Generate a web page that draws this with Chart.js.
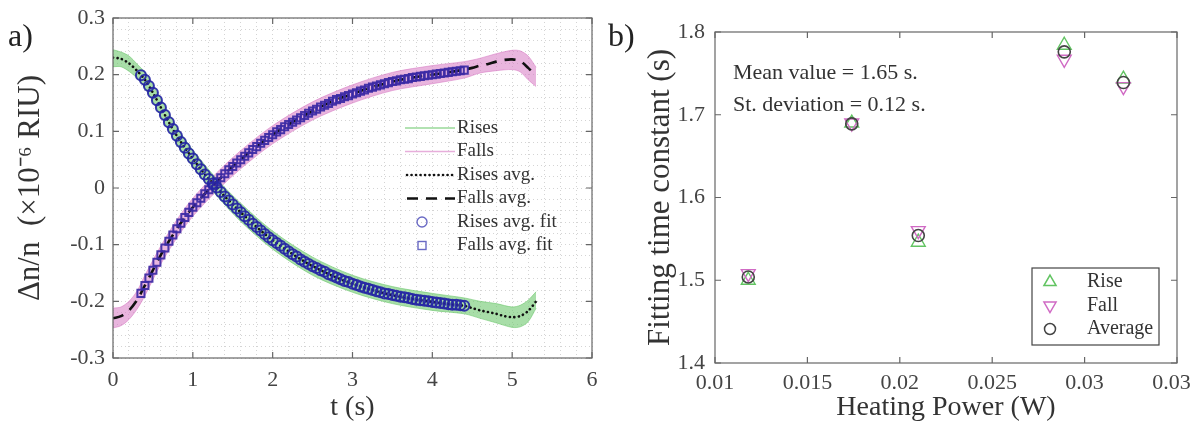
<!DOCTYPE html>
<html>
<head>
<meta charset="utf-8">
<script src="https://cdn.jsdelivr.net/npm/chart.js@4.4.1/dist/chart.umd.min.js"></script>
<style>
  body { margin: 0; background: #fff; width: 1191px; height: 430px; overflow: hidden; position: relative; font-family: "Liberation Serif", serif; }
  canvas { position: absolute; top: 0; }
  #graficoA { left: 0; }
  #graficoB { left: 600px; }
  .rotulo { position: absolute; font-size: 32px; line-height: 36px; color: #222; }
  .nota { position: absolute; font-size: 22px; line-height: 26px; color: #333; white-space: nowrap; }
</style>
</head>
<body>
<canvas id="graficoA" width="600" height="430"></canvas>
<canvas id="graficoB" width="591" height="430"></canvas>
<div class="rotulo" style="left:8px; top:17px;">a)</div>
<div class="rotulo" style="left:608px; top:17px;">b)</div>
<div class="nota" style="left:733px; top:59px;">Mean value = 1.65 s.</div>
<div class="nota" style="left:733px; top:91px;">St. deviation = 0.12 s.</div>
<script>
// ---- painel a) curvas médias ----
const tMedia = [0, 0.1, 0.2, 0.3, 0.4, 0.5, 0.6, 0.7, 0.8, 0.9, 1.0, 1.1, 1.2, 1.3, 1.4, 1.5, 1.6, 1.7, 1.8, 1.9, 2.0,
  2.2, 2.4, 2.6, 2.8, 3.0, 3.2, 3.4, 3.6, 3.8, 4.0, 4.2, 4.4, 4.5, 4.6, 4.7, 4.8, 4.9, 5.0, 5.1, 5.2, 5.3];
const subidasMedia = [0.230, 0.228, 0.220, 0.207, 0.191, 0.168, 0.142, 0.116, 0.092, 0.071, 0.052, 0.033, 0.016, 0.001, -0.015, -0.029, -0.043, -0.056, -0.069, -0.081, -0.092,
  -0.112, -0.130, -0.145, -0.158, -0.169, -0.178, -0.186, -0.192, -0.197, -0.201, -0.205, -0.208, -0.212, -0.216, -0.219, -0.222, -0.226, -0.228, -0.226, -0.217, -0.200];
const descidasMedia = [-0.230, -0.226, -0.216, -0.198, -0.172, -0.145, -0.118, -0.094, -0.072, -0.052, -0.034, -0.018, -0.003, 0.011, 0.025, 0.038, 0.050, 0.062, 0.073, 0.084, 0.094,
  0.112, 0.128, 0.143, 0.156, 0.166, 0.176, 0.184, 0.191, 0.196, 0.200, 0.204, 0.209, 0.212, 0.216, 0.219, 0.223, 0.226, 0.227, 0.224, 0.212, 0.198];

// faixas das curvas individuais (limite de cima e de baixo)
const tFaixa = [0, 0.1, 0.2, 0.3, 0.4, 0.6, 0.8, 1.0, 1.3, 1.6, 2.0, 2.5, 3.0, 3.5, 4.0, 4.4, 4.6, 4.8, 5.0, 5.1, 5.2, 5.3];
const subidasCima = [0.244, 0.240, 0.233, 0.219, 0.204, 0.157, 0.107, 0.067, 0.016, -0.027, -0.076, -0.122, -0.154, -0.174, -0.186, -0.194, -0.200, -0.204, -0.210, -0.207, -0.198, -0.183];
const subidasBaixo = [0.214, 0.214, 0.206, 0.194, 0.177, 0.127, 0.077, 0.037, -0.014, -0.059, -0.108, -0.154, -0.184, -0.204, -0.216, -0.222, -0.230, -0.238, -0.246, -0.245, -0.236, -0.212];
const descidasCima = [-0.212, -0.210, -0.200, -0.182, -0.154, -0.102, -0.056, -0.018, 0.027, 0.066, 0.110, 0.152, 0.182, 0.204, 0.216, 0.223, 0.229, 0.237, 0.243, 0.242, 0.233, 0.213];
const descidasBaixo = [-0.247, -0.243, -0.232, -0.214, -0.190, -0.134, -0.088, -0.050, -0.005, 0.034, 0.078, 0.120, 0.150, 0.172, 0.184, 0.194, 0.203, 0.207, 0.209, 0.205, 0.191, 0.179];

// pontos do ajuste
const tAjuste = [0.35, 0.40, 0.45, 0.50, 0.55, 0.60, 0.65, 0.70, 0.75, 0.80, 0.85, 0.90, 0.95, 1.00, 1.05, 1.10, 1.15, 1.20, 1.25, 1.30,
  1.35, 1.40, 1.45, 1.50, 1.55, 1.60, 1.65, 1.70, 1.75, 1.80, 1.85, 1.90, 1.95, 2.00, 2.05, 2.10, 2.15, 2.20, 2.25, 2.30,
  2.35, 2.40, 2.45, 2.50, 2.55, 2.60, 2.65, 2.70, 2.75, 2.80, 2.85, 2.90, 2.95, 3.00, 3.05, 3.10, 3.15, 3.20, 3.25, 3.30,
  3.35, 3.40, 3.45, 3.50, 3.55, 3.60, 3.65, 3.70, 3.75, 3.80, 3.85, 3.90, 3.95, 4.00, 4.05, 4.10, 4.15, 4.20, 4.25, 4.30, 4.35, 4.40];
const ajusteSubidas = [0.199, 0.191, 0.180, 0.168, 0.155, 0.142, 0.129, 0.116, 0.104, 0.092,
  0.081, 0.071, 0.061, 0.052, 0.042, 0.033, 0.024, 0.016, 0.008, 0.001,
  -0.007, -0.015, -0.022, -0.029, -0.036, -0.043, -0.050, -0.056, -0.063, -0.069,
  -0.075, -0.081, -0.087, -0.092, -0.097, -0.102, -0.107, -0.112, -0.117, -0.121,
  -0.126, -0.130, -0.134, -0.138, -0.141, -0.145, -0.148, -0.152, -0.155, -0.158,
  -0.161, -0.164, -0.166, -0.169, -0.171, -0.174, -0.176, -0.178, -0.180, -0.182,
  -0.184, -0.186, -0.187, -0.189, -0.190, -0.192, -0.193, -0.194, -0.196, -0.197,
  -0.198, -0.199, -0.200, -0.201, -0.202, -0.203, -0.204, -0.205, -0.206, -0.206, -0.207, -0.208];
const ajusteDescidas = [-0.186, -0.172, -0.159, -0.145, -0.131, -0.118, -0.106, -0.094, -0.083, -0.072,
  -0.062, -0.052, -0.043, -0.034, -0.026, -0.018, -0.010, -0.003, 0.004, 0.011,
  0.018, 0.025, 0.032, 0.038, 0.044, 0.050, 0.056, 0.062, 0.068, 0.073,
  0.079, 0.084, 0.089, 0.094, 0.099, 0.103, 0.108, 0.112, 0.116, 0.120,
  0.124, 0.128, 0.132, 0.136, 0.139, 0.143, 0.146, 0.149, 0.153, 0.156,
  0.158, 0.161, 0.163, 0.166, 0.168, 0.171, 0.173, 0.176, 0.178, 0.180,
  0.182, 0.184, 0.186, 0.188, 0.189, 0.191, 0.192, 0.193, 0.195, 0.196,
  0.197, 0.198, 0.199, 0.200, 0.201, 0.202, 0.203, 0.204, 0.205, 0.206, 0.207, 0.208];

// ---- painel b) constantes de tempo ----
const potencia = [0.0118, 0.0174, 0.0210, 0.0289, 0.0321];
const tauSubida = [1.500, 1.690, 1.546, 1.784, 1.743];
const tauDescida = [1.508, 1.690, 1.560, 1.767, 1.734];
const tauMedia = [1.504, 1.689, 1.554, 1.776, 1.739];

const FONTE = '"Liberation Serif", serif';
const VERDE = "rgba(110,200,110,0.6)";
const ROSA = "rgba(215,120,195,0.55)";

const pares = (xs, ys) => xs.map((x, i) => ({ x: x, y: ys[i] }));

// moldura fechada + tiquinhos pra dentro (estilo matlab)
const moldura = {
  id: "moldura",
  afterDatasetsDraw(chart) {
    const { ctx, chartArea: a, scales } = chart;
    ctx.save();
    ctx.strokeStyle = "#666";
    ctx.lineWidth = 1.2;
    ctx.setLineDash([]);
    ctx.strokeRect(a.left, a.top, a.right - a.left, a.bottom - a.top);
    const tam = 6;
    ctx.beginPath();
    scales.x.ticks.forEach((t) => {
      if (!t.label) return;
      const px = scales.x.getPixelForValue(t.value);
      ctx.moveTo(px, a.bottom); ctx.lineTo(px, a.bottom - tam);
      ctx.moveTo(px, a.top); ctx.lineTo(px, a.top + tam);
    });
    scales.y.ticks.forEach((t) => {
      if (!t.label) return;
      const py = scales.y.getPixelForValue(t.value);
      ctx.moveTo(a.left, py); ctx.lineTo(a.left + tam, py);
      ctx.moveTo(a.right, py); ctx.lineTo(a.right - tam, py);
    });
    ctx.stroke();
    ctx.restore();
  },
};

// legenda do painel a) (sem caixa)
const legendaA = {
  id: "legendaA",
  afterDraw(chart) {
    const { ctx, chartArea: a } = chart;
    const x0 = a.right - 187;
    const y0 = a.top + 110;
    const passo = 23.5;
    const itens = ["Rises", "Falls", "Rises avg.", "Falls avg.", "Rises avg. fit", "Falls avg. fit"];
    ctx.save();
    ctx.font = "19px " + FONTE;
    ctx.textBaseline = "middle";
    itens.forEach((txt, i) => {
      const y = y0 + i * passo;
      ctx.setLineDash([]);
      ctx.lineCap = "butt";
      if (i === 0 || i === 1) {
        ctx.strokeStyle = i === 0 ? "rgba(110,200,110,0.7)" : "rgba(215,120,195,0.6)";
        ctx.lineWidth = 1.5;
        ctx.beginPath(); ctx.moveTo(x0, y); ctx.lineTo(x0 + 50, y); ctx.stroke();
      } else if (i === 2) {
        ctx.strokeStyle = "#111"; ctx.lineWidth = 2.6; ctx.lineCap = "round";
        ctx.setLineDash([0.1, 4.4]);
        ctx.beginPath(); ctx.moveTo(x0 + 2, y); ctx.lineTo(x0 + 50, y); ctx.stroke();
      } else if (i === 3) {
        ctx.strokeStyle = "#111"; ctx.lineWidth = 2.6;
        ctx.setLineDash([11, 8]);
        ctx.beginPath(); ctx.moveTo(x0 + 2, y); ctx.lineTo(x0 + 50, y); ctx.stroke();
      } else if (i === 4) {
        ctx.strokeStyle = "#6a6ac4"; ctx.lineWidth = 1.4;
        ctx.beginPath(); ctx.arc(x0 + 17, y, 5, 0, Math.PI * 2); ctx.stroke();
      } else {
        ctx.strokeStyle = "#6a6ac4"; ctx.lineWidth = 1.4;
        ctx.strokeRect(x0 + 13, y - 4, 8, 8);
      }
      ctx.setLineDash([]);
      ctx.fillStyle = "#333";
      ctx.fillText(txt, x0 + 52, y);
    });
    ctx.restore();
  },
};

// legenda do painel b) (com caixa)
const legendaB = {
  id: "legendaB",
  afterDraw(chart) {
    const { ctx, chartArea: a } = chart;
    const bx = a.right - 145;
    const by = a.bottom - 95;
    ctx.save();
    ctx.fillStyle = "#fff";
    ctx.fillRect(bx, by, 127, 77);
    ctx.strokeStyle = "#444";
    ctx.lineWidth = 1.2;
    ctx.strokeRect(bx, by, 127, 77);
    ctx.font = "20px " + FONTE;
    ctx.textBaseline = "middle";
    const itens = [
      { txt: "Rise", cor: "#62c462", estilo: "triangle", rot: 0 },
      { txt: "Fall", cor: "#d06ac4", estilo: "triangle", rot: 180 },
      { txt: "Average", cor: "#444", estilo: "circle", rot: 0 },
    ];
    itens.forEach((it, i) => {
      const y = by + 14 + i * 23.5;
      ctx.strokeStyle = it.cor;
      ctx.fillStyle = "rgba(0,0,0,0)";
      ctx.lineWidth = 1.5;
      Chart.helpers.drawPoint(ctx, { pointStyle: it.estilo, radius: it.estilo === "circle" ? 5.5 : 7, rotation: it.rot, borderWidth: 1.5 }, bx + 18, y);
      ctx.fillStyle = "#333";
      ctx.fillText(it.txt, bx + 55, y);
    });
    ctx.restore();
  },
};

new Chart(document.getElementById("graficoA"), {
  type: "scatter",
  data: {
    datasets: [
      {
        label: "Rises avg. fit",
        data: pares(tAjuste, ajusteSubidas),
        pointStyle: "circle",
        pointRadius: 5,
        borderWidth: 2,
        borderColor: "rgba(38,38,165,0.92)",
        backgroundColor: "rgba(0,0,0,0)",
        order: 0,
      },
      {
        label: "Falls avg. fit",
        data: pares(tAjuste, ajusteDescidas),
        pointStyle: "rect",
        pointRadius: 5,
        borderWidth: 2,
        borderColor: "rgba(60,42,165,0.92)",
        backgroundColor: "rgba(0,0,0,0)",
        order: 0,
      },
      {
        label: "Rises avg.",
        data: pares(tMedia, subidasMedia),
        showLine: true,
        pointRadius: 0,
        borderColor: "#111",
        borderWidth: 2.6,
        borderCapStyle: "round",
        borderDash: [0.1, 4.4],
        tension: 0.3,
        order: 1,
      },
      {
        label: "Falls avg.",
        data: pares(tMedia, descidasMedia),
        showLine: true,
        pointRadius: 0,
        borderColor: "#111",
        borderWidth: 2.6,
        borderDash: [11, 8],
        tension: 0.3,
        order: 1,
      },
      {
        label: "Rises (cima)",
        data: pares(tFaixa, subidasCima),
        showLine: true,
        pointRadius: 0,
        borderColor: VERDE,
        borderWidth: 1,
        tension: 0.3,
        order: 2,
      },
      {
        label: "Rises",
        data: pares(tFaixa, subidasBaixo),
        showLine: true,
        pointRadius: 0,
        borderColor: VERDE,
        backgroundColor: VERDE,
        borderWidth: 1,
        fill: "-1",
        tension: 0.3,
        order: 2,
      },
      {
        label: "Falls (cima)",
        data: pares(tFaixa, descidasCima),
        showLine: true,
        pointRadius: 0,
        borderColor: ROSA,
        borderWidth: 1,
        tension: 0.3,
        order: 2,
      },
      {
        label: "Falls",
        data: pares(tFaixa, descidasBaixo),
        showLine: true,
        pointRadius: 0,
        borderColor: ROSA,
        backgroundColor: ROSA,
        borderWidth: 1,
        fill: "-1",
        tension: 0.3,
        order: 2,
      },
    ],
  },
  options: {
    responsive: false,
    animation: false,
    layout: { padding: { left: 0, right: 8, top: 18, bottom: 0 } },
    plugins: { legend: { display: false }, tooltip: { enabled: false } },
    scales: {
      x: {
        type: "linear",
        min: 0,
        max: 6,
        afterFit(s) { s.height = 72; s.paddingLeft = 0; s.paddingRight = 0; },
        ticks: {
          stepSize: 0.2,
          maxTicksLimit: 100,
          autoSkip: false,
          maxRotation: 0,
          padding: 9,
          color: "#444",
          font: { family: FONTE, size: 22 },
          callback: (v) => (Math.abs(v - Math.round(v)) < 1e-6 ? String(Math.round(v)) : ""),
        },
        grid: { color: "rgba(0,0,0,0.17)", lineWidth: 1, drawTicks: false },
        border: { display: false, dash: [1, 3] },
        title: { display: true, text: "t (s)", color: "#333", font: { family: FONTE, size: 28 }, padding: { top: 0, bottom: 6 } },
      },
      y: {
        min: -0.3,
        max: 0.3,
        afterFit(s) { s.width = 113; s.paddingTop = 0; s.paddingBottom = 0; },
        ticks: {
          stepSize: 0.02,
          maxTicksLimit: 100,
          autoSkip: false,
          padding: 8,
          color: "#444",
          font: { family: FONTE, size: 22 },
          callback: (v) => {
            const d = v * 10;
            if (Math.abs(d - Math.round(d)) > 1e-6) return "";
            return Math.round(d) === 0 ? "0" : (Math.round(d) / 10).toFixed(1);
          },
        },
        grid: { color: "rgba(0,0,0,0.17)", lineWidth: 1, drawTicks: false },
        border: { display: false, dash: [1, 3] },
        title: { display: true, text: "Δn/n  (×10⁻⁶ RIU)", color: "#333", font: { family: FONTE, size: 31 }, padding: { top: 12, bottom: 0 } },
      },
    },
  },
  plugins: [moldura, legendaA],
});

new Chart(document.getElementById("graficoB"), {
  type: "scatter",
  data: {
    datasets: [
      {
        label: "Average",
        data: pares(potencia, tauMedia),
        pointStyle: "circle",
        pointRadius: 6,
        borderWidth: 1.6,
        borderColor: "#444",
        backgroundColor: "rgba(0,0,0,0)",
      },
      {
        label: "Fall",
        data: pares(potencia, tauDescida),
        pointStyle: "triangle",
        rotation: 180,
        pointRadius: 8,
        borderWidth: 1.4,
        borderColor: "#d06ac4",
        backgroundColor: "rgba(0,0,0,0)",
      },
      {
        label: "Rise",
        data: pares(potencia, tauSubida),
        pointStyle: "triangle",
        pointRadius: 8,
        borderWidth: 1.4,
        borderColor: "#62c462",
        backgroundColor: "rgba(0,0,0,0)",
      },
    ],
  },
  options: {
    responsive: false,
    animation: false,
    layout: { padding: { left: 0, right: 14, top: 32, bottom: 0 } },
    plugins: { legend: { display: false }, tooltip: { enabled: false } },
    scales: {
      x: {
        type: "linear",
        min: 0.01,
        max: 0.035,
        afterFit(s) { s.height = 67; s.paddingLeft = 0; s.paddingRight = 0; },
        ticks: {
          stepSize: 0.005,
          autoSkip: false,
          maxRotation: 0,
          padding: 7,
          color: "#444",
          font: { family: FONTE, size: 22 },
          callback: (v) => String(parseFloat(v.toFixed(3))),
        },
        grid: { display: false, drawTicks: false },
        border: { display: false },
        title: { display: true, text: "Heating Power (W)", color: "#333", font: { family: FONTE, size: 28 }, padding: { top: 0, bottom: 6 } },
      },
      y: {
        min: 1.4,
        max: 1.8,
        afterFit(s) { s.width = 115; s.paddingTop = 0; s.paddingBottom = 0; },
        ticks: {
          stepSize: 0.1,
          padding: 10,
          color: "#444",
          font: { family: FONTE, size: 22 },
          callback: (v) => v.toFixed(1),
        },
        grid: { display: false, drawTicks: false },
        border: { display: false },
        title: { display: true, text: "Fitting time constant (s)", color: "#333", font: { family: FONTE, size: 31 }, padding: { top: 42, bottom: 0 } },
      },
    },
  },
  plugins: [moldura, legendaB],
});
</script>
</body>
</html>
